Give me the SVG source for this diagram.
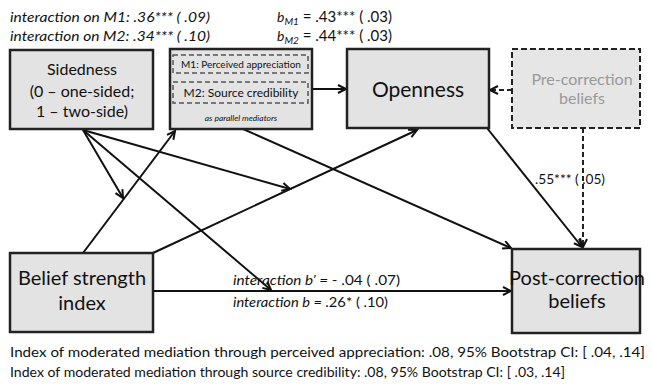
<svg xmlns="http://www.w3.org/2000/svg" width="652" height="390" viewBox="0 0 652 390">
<defs>
<marker id="arr" markerUnits="userSpaceOnUse" markerWidth="12" markerHeight="12" refX="9" refY="5" orient="auto">
<path d="M1,1 L9,5 L1,9" fill="none" stroke="#111" stroke-width="2"/>
</marker>
<style>
text{font-family:"Lato","Open Sans","Liberation Sans",sans-serif;fill:#111}
.box{fill:#e3e3e3;stroke:#222;stroke-width:2.5}
.dbox{fill:#e6e6e6;stroke:#222;stroke-width:2;stroke-dasharray:6,3}
.inner{fill:none;stroke:#555;stroke-width:1.5;stroke-dasharray:5,3}
.lbl{font-size:14px;font-style:italic}
.up{font-style:normal}
.c{text-anchor:middle}
.ln{stroke:#111;stroke-width:2;fill:none;marker-end:url(#arr)}
.dl{stroke:#222;stroke-width:2;fill:none;stroke-dasharray:5,3;marker-end:url(#arr)}
</style>
</defs>
<rect width="652" height="390" fill="#fff"/>
<g id="labels-top">
<text class="lbl" x="10" y="22" textLength="200" lengthAdjust="spacingAndGlyphs">interaction on M1: .36*** ( .09)</text>
<text class="lbl" x="10" y="41" textLength="200" lengthAdjust="spacingAndGlyphs">interaction on M2: .34*** ( .10)</text>
<text class="lbl" x="277" y="22">b<tspan font-size="10" dy="3">M1</tspan><tspan dy="-3" class="up" font-size="15"> = .43*** ( .03)</tspan></text>
<text class="lbl" x="277" y="41">b<tspan font-size="10" dy="3">M2</tspan><tspan dy="-3" class="up" font-size="15"> = .44*** ( .03)</tspan></text>
</g>
<g id="connectors">
<line class="ln" x1="312" y1="89" x2="346" y2="89"/>
<line class="dl" x1="512" y1="90" x2="490" y2="90"/>
<line class="ln" x1="83" y1="253" x2="175" y2="131"/>
<line class="ln" x1="153" y1="253" x2="417" y2="130"/>
<line class="ln" x1="243" y1="129" x2="511" y2="248"/>
<line class="ln" x1="487" y1="128" x2="582" y2="247"/>
<line class="dl" x1="583" y1="128" x2="583" y2="247"/>
<line class="ln" x1="153" y1="291" x2="511" y2="291"/>
<line class="ln" x1="83" y1="130" x2="123" y2="198"/>
<line class="ln" x1="83" y1="130" x2="290" y2="189"/>
<line class="ln" x1="83" y1="130" x2="271" y2="290"/>
</g>
<g id="sidedness">
<rect class="box" x="10" y="50" width="143" height="79"/>
<text class="c" x="82" y="75" font-size="16">Sidedness</text>
<text class="c" x="82" y="97" font-size="16">(0 – one-sided;</text>
<text class="c" x="82" y="117" font-size="16">1 – two-side)</text>
</g>
<g id="mediators">
<rect class="box" x="170" y="49" width="142" height="80"/>
<rect class="inner" x="173" y="55" width="135" height="18"/>
<rect class="inner" x="173" y="82" width="135" height="21"/>
<text class="c" x="241" y="68" font-size="10">M1: Perceived appreciation</text>
<text class="c" x="241" y="97" font-size="12">M2: Source credibility</text>
<text class="c" x="241" y="121" font-size="8.5" font-style="italic" fill="#333">as parallel mediators</text>
</g>
<g id="openness">
<rect class="box" x="347" y="49" width="142" height="79"/>
<text class="c" x="418" y="97" font-size="21">Openness</text>
</g>
<g id="precorrection">
<rect class="dbox" x="512" y="49" width="128" height="79"/>
<text class="c" x="582" y="85" font-size="16" style="fill:#999">Pre-correction</text>
<text class="c" x="582" y="104" font-size="16" style="fill:#999">beliefs</text>
</g>
<g id="beliefstrength">
<rect class="box" x="10" y="253" width="143" height="79"/>
<text class="c" x="82" y="285" font-size="20">Belief strength</text>
<text class="c" x="82" y="310" font-size="20">index</text>
</g>
<g id="postcorrection">
<rect class="box" x="512" y="249" width="128" height="84"/>
<text class="c" x="577" y="285" font-size="20">Post-correction</text>
<text class="c" x="577" y="308" font-size="20">beliefs</text>
</g>
<g id="path-labels">
<text x="535" y="184" font-size="14" textLength="70" lengthAdjust="spacingAndGlyphs">.55*** ( .05)</text>
<text class="lbl" x="233" y="285" font-size="14" textLength="167" lengthAdjust="spacingAndGlyphs">interaction b’ = <tspan class="up">- .04 ( .07)</tspan></text>
<text class="lbl" x="233" y="307" textLength="155" lengthAdjust="spacingAndGlyphs">interaction b = <tspan class="up">.26* ( .10)</tspan></text>
</g>
<g id="footer">
<text x="10" y="357" font-size="13.5" textLength="635" lengthAdjust="spacingAndGlyphs">Index of moderated mediation through perceived appreciation: .08, 95% Bootstrap CI: [ .04, .14]</text>
<text x="10" y="377" font-size="13.5" textLength="555" lengthAdjust="spacingAndGlyphs">Index of moderated mediation through source credibility: .08, 95% Bootstrap CI: [ .03, .14]</text>
</g>
</svg>
